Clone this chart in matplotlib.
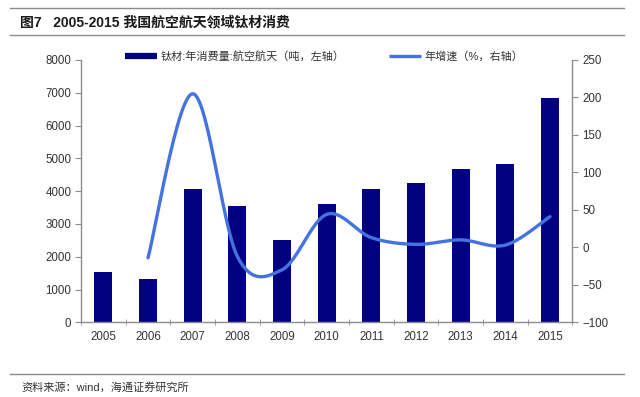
import numpy as np
import matplotlib
matplotlib.use("Agg")
from matplotlib import pyplot as plt
from matplotlib.lines import Line2D

plt.rcParams['font.family'] = ['Liberation Sans', 'Noto Sans CJK SC', 'DejaVu Sans']

years = ['2005', '2006', '2007', '2008', '2009', '2010', '2011', '2012', '2013', '2014', '2015']
consumption = [1540, 1320, 4060, 3560, 2500, 3600, 4070, 4250, 4670, 4840, 6850]
# growth starts in 2006
growth_years = years[1:]
growth = [-14, 205, -12, -30, 44, 13, 4, 10, 3, 41]

left_ticks = [0, 1000, 2000, 3000, 4000, 5000, 6000, 7000, 8000]
right_ticks = [-100, -50, 0, 50, 100, 150, 200, 250]

title = '图7   2005-2015 我国航空航天领域钛材消费'
bar_label = '钛材:年消费量:航空航天（吨，左轴）'
line_label = '年增速（%，右轴）'
source = '资料来源：wind，海通证券研究所'

BAR_COLOR = '#000080'
LINE_COLOR = '#4472e0'
GRAY = '#8c8c8c'
TXT = '#333333'


def smooth(xs, ys, n=30):
    # Catmull-Rom style bezier, like the smoothed lines in office charts
    pts = np.column_stack([xs, ys]).astype(float)
    ext = np.vstack([pts[0], pts, pts[-1]])
    out = []
    t = np.linspace(0, 1, n)[:, None]
    for i in range(len(pts) - 1):
        p0, p1, p2, p3 = ext[i], ext[i + 1], ext[i + 2], ext[i + 3]
        c1 = p1 + (p2 - p0) / 6.0
        c2 = p2 - (p3 - p1) / 6.0
        seg = ((1 - t) ** 3) * p1 + 3 * ((1 - t) ** 2) * t * c1 + 3 * (1 - t) * t ** 2 * c2 + t ** 3 * p2
        out.append(seg if i == 0 else seg[1:])
    seg_all = np.vstack(out)
    return seg_all[:, 0], seg_all[:, 1]


fig = plt.figure(figsize=(6.4, 3.97), dpi=100)
ax = fig.add_axes([81 / 640, 1 - 322.3 / 397, (572.3 - 81) / 640, (322.3 - 60) / 397])

x = np.arange(len(years))
ax.bar(x, consumption, width=0.4, color=BAR_COLOR, zorder=2)
ax.set_xlim(-0.5, len(years) - 0.5)
ax.set_ylim(0, 8000)
ax.set_yticks(left_ticks)
ax.set_xticks(x)
ax.set_xticklabels(years)
ax.set_xticks(np.arange(len(years) + 1) - 0.5, minor=True)
ax.tick_params(axis='x', which='major', length=0, pad=6, labelsize=8.3, labelcolor=TXT)
ax.tick_params(axis='x', which='minor', direction='inout', length=5, color=GRAY)
ax.tick_params(axis='y', direction='out', length=4, color=GRAY, labelsize=8.3, labelcolor=TXT, pad=3)

ax2 = ax.twinx()
gx = np.array([years.index(y) for y in growth_years])
sx, sy = smooth(gx, growth)
ax2.plot(sx, sy, color=LINE_COLOR, lw=2.4, solid_capstyle='round', zorder=3)
ax2.set_ylim(-100, 250)
ax2.set_yticks(right_ticks)
ax2.tick_params(axis='y', direction='out', length=4, color=GRAY, labelsize=8.3, labelcolor=TXT, pad=3)

for a in (ax, ax2):
    a.spines['top'].set_visible(False)
    for s in ('left', 'right', 'bottom'):
        a.spines[s].set_color(GRAY)
        a.spines[s].set_linewidth(1.0)
ax.spines['right'].set_visible(False)
ax2.spines['left'].set_visible(False)
ax2.spines['bottom'].set_visible(False)

handles = [Line2D([], [], color=BAR_COLOR, lw=4.5, solid_capstyle='butt'),
           Line2D([], [], color=LINE_COLOR, lw=2.4, solid_capstyle='butt')]
fig.legend(handles, [bar_label, line_label], ncol=2, loc='center',
           bbox_to_anchor=(324 / 640, 1 - 56.7 / 397), bbox_transform=fig.transFigure,
           frameon=False, fontsize=8, handlelength=2.9, handletextpad=0.3,
           columnspacing=4.0, labelcolor=TXT)

# header / footer rules
for yy in (8.3, 35, 374):
    fig.add_artist(Line2D([10 / 640, 624 / 640], [1 - yy / 397, 1 - yy / 397],
                          color=GRAY, lw=1.0, transform=fig.transFigure))

fig.text(20 / 640, 1 - 22.5 / 397, title, fontsize=10, fontweight='bold',
         va='center', ha='left', color='#1a1a1a')
fig.text(21 / 640, 1 - 387.5 / 397, source, fontsize=8, va='center', ha='left', color=TXT)

fig.savefig('out.png', dpi=100)
